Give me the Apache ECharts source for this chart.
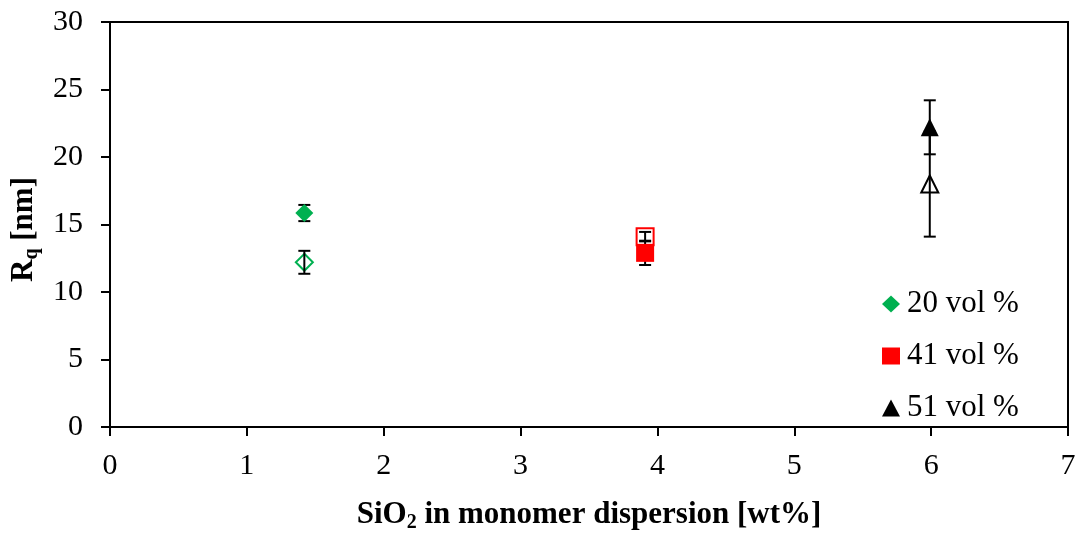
<!DOCTYPE html>
<html>
<head>
<meta charset="utf-8">
<script src="https://cdn.jsdelivr.net/npm/echarts@6/dist/echarts.min.js"></script>
<style>
  html, body { margin: 0; padding: 0; background: #fff; }
  #chart { width: 1079px; height: 538px; }
</style>
</head>
<body>
<div id="chart"></div>
<script>
// data
var seriesNames = ['20 vol %', '41 vol %', '51 vol %'];
var colors = ['#00B050', '#FF0000', '#000000'];
var symbols = ['diamond', 'rect', 'triangle'];
var silica = [1.42, 3.91, 5.99];        // SiO2 wt%
var rqFilled = [15.85, 12.9, 22.2];    // filled markers
var errFilled = [0.6, 0.9, 2.0];
var rqHollow = [12.2, 14.1, 18.0];     // open markers
var errHollow = [0.85, 0.35, 3.9];
var xTicks = [0, 1, 2, 3, 4, 5, 6, 7];
var yTicks = [0, 5, 10, 15, 20, 25, 30];

var font = '"Liberation Serif", "Times New Roman", serif';

// error bars drawn by custom series
function errorBars(ys, errs) {
  var d = [];
  for (var i = 0; i < silica.length; i++) {
    d.push([silica[i], ys[i] - errs[i], ys[i] + errs[i]]);
  }
  return d;
}
function renderBar(params, api) {
  var lo = api.coord([api.value(0), api.value(1)]);
  var hi = api.coord([api.value(0), api.value(2)]);
  var w = 6;
  var st = { stroke: '#000', lineWidth: 2 };
  return {
    type: 'group',
    children: [
      { type: 'line', shape: { x1: hi[0], y1: hi[1], x2: lo[0], y2: lo[1] }, style: st },
      { type: 'line', shape: { x1: hi[0] - w, y1: hi[1], x2: hi[0] + w, y2: hi[1] }, style: st },
      { type: 'line', shape: { x1: lo[0] - w, y1: lo[1], x2: lo[0] + w, y2: lo[1] }, style: st }
    ]
  };
}

var series = [];
seriesNames.forEach(function (name, i) {
  // open marker, below error bars
  series.push({
    name: name + ' open',
    type: 'scatter',
    symbol: 'empty' + symbols[i].charAt(0).toUpperCase() + symbols[i].slice(1),
    symbolSize: 17,
    z: 2,
    itemStyle: { color: colors[i], borderColor: colors[i], borderWidth: 2, opacity: 1 },
    data: [[silica[i], rqHollow[i]]]
  });
});
series.push({
  type: 'custom', name: 'err', z: 3, silent: true,
  renderItem: renderBar,
  data: errorBars(rqFilled, errFilled).concat(errorBars(rqHollow, errHollow))
});
seriesNames.forEach(function (name, i) {
  series.push({
    name: name,
    type: 'scatter',
    symbol: symbols[i],
    symbolSize: 18,
    z: 4,
    itemStyle: { color: colors[i], opacity: 1 },
    data: [[silica[i], rqFilled[i]]]
  });
});

var titleRich = {
  b: { fontFamily: font, fontSize: 31, fontWeight: 'bold', color: '#000' },
  s: { fontFamily: font, fontSize: 20, fontWeight: 'bold', color: '#000', padding: [16, 0, 0, 0] }
};

var chart = echarts.init(document.getElementById('chart'));
chart.setOption({
  animation: false,
  grid: {
    left: 110, right: 11, top: 22, bottom: 107,
    show: true, borderColor: '#000', borderWidth: 2, backgroundColor: 'transparent'
  },
  legend: {
    data: seriesNames,
    orient: 'vertical',
    left: 877, top: 283,
    itemWidth: 18, itemHeight: 17,
    itemGap: 20,
    textStyle: { fontFamily: font, fontSize: 31, color: '#000', lineHeight: 32, padding: [0, 0, 0, 2] }
  },
  xAxis: {
    type: 'value', min: xTicks[0], max: xTicks[xTicks.length - 1], interval: 1,
    name: '{b|SiO}{s|2}{b| in monomer dispersion [wt%]}',
    nameLocation: 'middle', nameGap: 70,
    nameTextStyle: { rich: titleRich },
    splitLine: { show: false },
    axisLine: { onZero: false, lineStyle: { color: '#000', width: 2 } },
    axisTick: { show: true, length: 9, inside: false, lineStyle: { color: '#000', width: 2 } },
    axisLabel: { fontFamily: font, fontSize: 30, color: '#000', margin: 24 }
  },
  yAxis: {
    type: 'value', min: yTicks[0], max: yTicks[yTicks.length - 1], interval: 5,
    name: '{b|R}{s|q}{b| [nm]}',
    nameLocation: 'middle', nameGap: 57,
    nameTextStyle: { rich: titleRich, padding: [0, 10, 0, 0] },
    splitLine: { show: false },
    axisLine: { onZero: false, lineStyle: { color: '#000', width: 2 } },
    axisTick: { show: true, length: 9, inside: false, lineStyle: { color: '#000', width: 2 } },
    axisLabel: { fontFamily: font, fontSize: 30, color: '#000', margin: 27 }
  },
  series: series
});
</script>
</body>
</html>
